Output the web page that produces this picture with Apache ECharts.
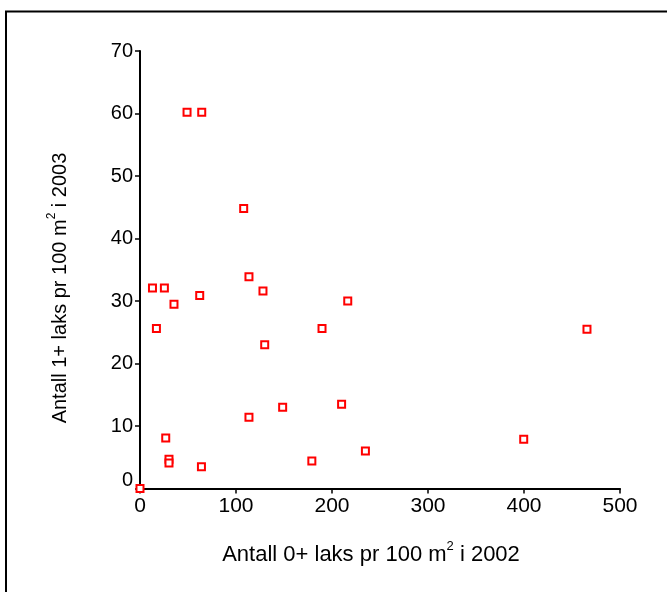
<!DOCTYPE html>
<html>
<head>
<meta charset="utf-8">
<script src="https://cdn.jsdelivr.net/npm/echarts@6/dist/echarts.min.js"></script>
<style>
html,body{margin:0;padding:0;background:#fff;}
#chart{width:667px;height:592px;}
</style>
</head>
<body>
<div id="chart"></div>
<script>
// Data: salmon density 0+ (2002) vs 1+ (2003), per 100 m2
var xValues = [0, 13, 25.4, 35.4, 17.1, 62.2, 113.5, 128.1, 129.9, 189.6, 216.4, 113.5, 148.6, 210, 26.8, 30.2, 30.2, 64, 179, 234.8, 465.6, 399.7, 49, 64.3, 108];
var yValues = [0, 32.1, 32.1, 29.5, 25.6, 30.9, 33.9, 31.6, 23, 25.6, 30, 11.4, 13, 13.5, 8.1, 4.7, 4.1, 3.5, 4.4, 6, 25.5, 7.9, 60.2, 60.2, 44.8];
var xTicks = [0, 100, 200, 300, 400, 500];
var yTicks = [0, 10, 20, 30, 40, 50, 60, 70];
var xTitleParts = ['Antall 0+ laks pr 100 m', '2', ' i 2002'];
var yTitleParts = ['Antall 1+ laks pr 100 m', '2', ' i 2003'];

var font = 'Liberation Sans, Arial, sans-serif';
var points = xValues.map(function (x, i) { return [x, yValues[i]]; });

var chart = echarts.init(document.getElementById('chart'), null, {renderer: 'canvas'});
chart.setOption({
  animation: false,
  backgroundColor: '#fff',
  grid: {left: 140, right: 47, top: 51, bottom: 103.5, outerBoundsMode: 'none', containLabel: false},
  xAxis: {
    type: 'value',
    min: xTicks[0], max: xTicks[xTicks.length - 1], interval: xTicks[1] - xTicks[0],
    axisLine: {show: true, onZero: false, lineStyle: {color: '#000', width: 2}},
    axisTick: {show: true, length: 5, lineStyle: {color: '#000', width: 1.5}},
    axisLabel: {fontSize: 21, color: '#000', fontFamily: font, margin: 7},
    splitLine: {show: false}
  },
  yAxis: {
    type: 'value',
    min: yTicks[0], max: yTicks[yTicks.length - 1], interval: yTicks[1] - yTicks[0],
    axisLine: {show: true, onZero: false, lineStyle: {color: '#000', width: 2}},
    axisTick: {show: true, length: 5, lineStyle: {color: '#000', width: 1.5}},
    axisLabel: {
      fontSize: 20, color: '#000', fontFamily: font, margin: 7,
      formatter: function (v) { return v === 0 ? '{z|0}' : String(v); },
      rich: {z: {fontSize: 20, color: '#000', fontFamily: font, padding: [0, 0, 16, 0]}}
    },
    splitLine: {show: false}
  },
  series: [{
    type: 'scatter',
    data: points,
    symbol: 'rect',
    symbolSize: 7,
    itemStyle: {color: '#fff', borderColor: '#ff0000', borderWidth: 2, opacity: 1}
  }],
  graphic: [
    {type: 'rect', shape: {x: 6, y: 11.5, width: 800, height: 800}, style: {fill: 'none', stroke: '#000', lineWidth: 2}, silent: true},
    {type: 'text', x: 371, y: 555, style: {
      text: '{a|' + xTitleParts[0] + '}{s|' + xTitleParts[1] + '}{a|' + xTitleParts[2] + '}',
      align: 'center', verticalAlign: 'middle',
      rich: {a: {fontSize: 22, lineHeight: 30, fontFamily: font, fill: '#000'}, s: {fontSize: 13, fontFamily: font, fill: '#000', verticalAlign: 'top'}}
    }},
    {type: 'text', x: 60, y: 288, rotation: Math.PI / 2, style: {
      text: '{a|' + yTitleParts[0] + '}{s|' + yTitleParts[1] + '}{a|' + yTitleParts[2] + '}',
      align: 'center', verticalAlign: 'middle',
      rich: {a: {fontSize: 20, lineHeight: 28, fontFamily: font, fill: '#000'}, s: {fontSize: 12, fontFamily: font, fill: '#000', verticalAlign: 'top'}}
    }}
  ]
});
</script>
</body>
</html>
